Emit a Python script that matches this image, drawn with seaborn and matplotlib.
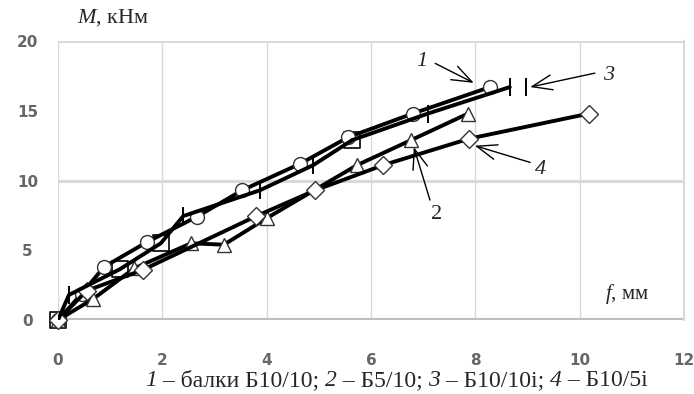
import matplotlib
matplotlib.use("Agg")
import matplotlib.pyplot as plt
from matplotlib.text import Annotation
import seaborn as sns

# === DATA ===
# 1 - balka B10/10 (circles)
f1 = [0, 0.46, 0.88, 1.71, 2.66, 3.53, 4.64, 5.56, 6.80, 8.28]
M1 = [0, 1.9, 3.8, 5.6, 7.4, 9.3, 11.2, 13.1, 14.8, 16.7]
# 2 - B5/10 (triangles)
f2 = [0, 0.67, 1.46, 2.55, 3.18, 4.00, 5.73, 6.77, 7.86]
M2 = [0, 1.5, 3.7, 5.5, 5.4, 7.3, 11.1, 12.9, 14.8]
# 3 - B10/10i (bars, some points drawn as squares)
f3 = [0, 0.21, 1.19, 1.97, 2.40, 3.87, 4.89, 5.64, 7.09, 8.66]
M3 = [0, 1.8, 3.65, 5.5, 7.45, 9.3, 11.1, 12.9, 14.8, 16.7]
sq3 = [0, 2, 3, 7]          # indices of series 3 drawn with squares
f3_last = [8.97]            # last lone reading of series 3
M3_last = [16.7]
# 4 - B10/5i (diamonds)
f4 = [0, 0.55, 1.63, 3.80, 4.93, 6.23, 7.88, 10.18]
M4 = [0, 2.1, 3.6, 7.45, 9.3, 11.1, 13.0, 14.8]

xticks = [0, 2, 4, 6, 8, 10, 12]
yticks = [0, 5, 10, 15, 20]
grid_levels = [10, 20]

# curve labels: text position, arrow tail, arrow tip
curve_labels = ["1", "2", "3", "4"]
label_xy = [(6.98, 18.5), (7.26, 7.6), (10.55, 17.5), (9.25, 10.8)]
arrow_tail = [(7.23, 18.4), (7.13, 8.6), (10.29, 17.7), (9.05, 11.3)]
arrow_tip = [(7.97, 17.0), (6.82, 12.4), (9.05, 16.7), (7.99, 12.5)]

# caption pieces (text, italic)
caption = [("1", True), (" – балки Б10/10; ", False), ("2", True), (" – Б5/10; ", False),
           ("3", True), (" – Б10/10i; ", False), ("4", True), (" – Б10/5i", False)]

# === STYLE ===
sns.set_theme(style="white")
plt.rcParams["font.family"] = ["Liberation Serif", "DejaVu Serif"]
plt.rcParams["mathtext.fontset"] = "custom"
plt.rcParams["mathtext.it"] = "Liberation Serif:italic"
plt.rcParams["mathtext.rm"] = "Liberation Serif"

fig = plt.figure(figsize=(6.94, 3.94), dpi=100)
ax = fig.add_axes([0.0836, 0.1878, 0.902, 0.708])

line_kw = dict(color="black", linewidth=2.8, sort=False, markersize=10,
               markerfacecolor="white", markeredgecolor="#333333",
               markeredgewidth=1.0, clip_on=False, zorder=3)

sns.lineplot(x=f1, y=M1, marker="o", ax=ax, **line_kw)
sns.lineplot(x=f2, y=M2, marker="^", ax=ax, **line_kw)
sns.lineplot(x=f4, y=M4, marker="D", ax=ax, **{**line_kw, "markersize": 9})
sns.lineplot(x=f3, y=M3, ax=ax, color="black", linewidth=2.8, sort=False, zorder=3)

bar_idx = [i for i in range(len(f3)) if i not in sq3]
ax.scatter([f3[i] for i in bar_idx] + f3_last, [M3[i] for i in bar_idx] + M3_last,
           marker="|", s=180, color="black", linewidths=1.4, zorder=4, clip_on=False)
ax.scatter([f3[i] for i in sq3], [M3[i] for i in sq3], marker="s", s=120,
           facecolor="white", edgecolor="black", linewidths=1.2, zorder=2, clip_on=False)

ax.set_xlim(0, 12)
ax.set_ylim(0, 20)
ax.set_xticks(xticks)
ax.set_yticks(yticks)
tick_font = dict(family="DejaVu Sans", weight="bold", size=11, color="#666666")
ax.set_xticklabels([str(t) for t in xticks], **tick_font)
ax.set_yticklabels([str(t) for t in yticks], **tick_font)
ax.tick_params(axis="x", length=0, pad=24)
for lab in ax.get_yticklabels():
    lab.set_horizontalalignment("center")
ax.tick_params(axis="y", length=0, pad=22)

ax.grid(axis="x", color="#d9d9d9", linewidth=1.0)
ax.grid(axis="y", visible=False)
for g in grid_levels:
    ax.axhline(g, color="#d9d9d9", linewidth=2.2, zorder=0)
ax.axhline(0, color="#bfbfbf", linewidth=3.0, zorder=1)
for s in ["top", "bottom", "left"]:
    ax.spines[s].set_visible(False)
ax.spines["right"].set_color("#d9d9d9")
ax.spines["right"].set_linewidth(1.5)

for t, xy, tail, tip in zip(curve_labels, label_xy, arrow_tail, arrow_tip):
    ax.text(xy[0], xy[1], t, fontsize=16, style="italic" if t != "2" else "normal",
            ha="center", va="center", zorder=5)
    ax.annotate("", xy=tip, xytext=tail,
                arrowprops=dict(arrowstyle="->,head_length=1.2,head_width=0.45",
                                color="black", lw=1.0, shrinkA=0, shrinkB=0), zorder=5)

fig.text(77 / 694, 1 - 18 / 394, r"$\mathit{M}$, кНм", fontsize=16, ha="left", va="center")
fig.text(627 / 694, 1 - 294 / 394, r"$\mathit{f}$, мм", fontsize=15,
         ha="center", va="center")

# caption: pieces chained one after another so the numbers can be italic
prev = fig.text(145 / 694, 1 - 391 / 394, caption[0][0], fontsize=17,
                style="italic", ha="left", va="bottom")
for txt, it in caption[1:]:
    prev = fig.add_artist(Annotation(txt, xy=(1, 0), xycoords=prev, fontsize=17,
                                     style="italic" if it else "normal",
                                     ha="left", va="bottom"))

fig.savefig("out.png", dpi=100)
plt.close(fig)
